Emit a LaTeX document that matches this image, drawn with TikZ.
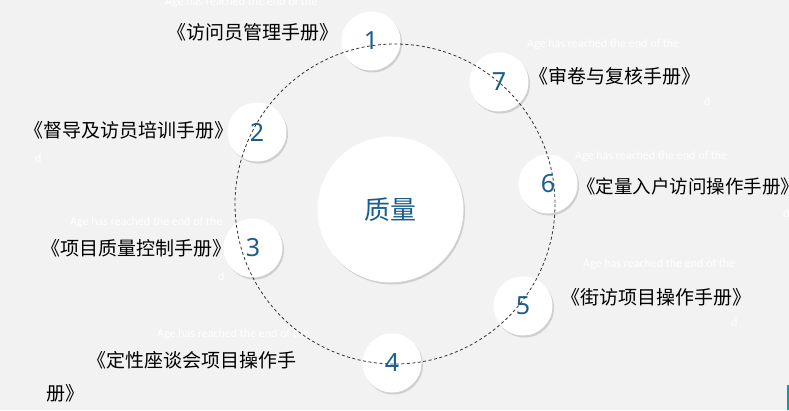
\documentclass[tikz,border=0pt]{standalone}
\usepackage{fontspec}
\setmainfont{Noto Sans}
\newfontfamily\cjk{Noto Sans CJK SC}
\newfontfamily\faintfont{Carlito}
\usetikzlibrary{shadows}
\definecolor{bggray}{HTML}{F2F2F2}
\definecolor{numblue}{HTML}{1B5E8C}
\definecolor{barteal}{HTML}{00A3A3}

\begin{document}
\begin{tikzpicture}[x=1pt,y=-1pt,
        numcircle/.style={circle,fill=white,minimum size=59pt,inner sep=0pt,
          drop shadow={opacity=0.3,shadow xshift=1.5pt,shadow yshift=-2pt},
          text=numblue,font=\fontsize{25}{25}\selectfont},
        bigcircle/.style={circle,fill=white,minimum size=146pt,inner sep=0pt,
          drop shadow={opacity=0.3,shadow xshift=1.5pt,shadow yshift=-2pt},
          text=numblue,font=\cjk\fontsize{26}{26}\selectfont},
        manual/.style={anchor=west,inner sep=0pt,font=\cjk\fontsize{19}{19}\selectfont},
        faint/.style={anchor=base west,inner sep=0pt,text=white,font=\faintfont\fontsize{12}{12}\selectfont},
        ring/.style={dash pattern=on 3pt off 2.5pt,line width=0.8pt,black!80}]
        \useasboundingbox (0,0) rectangle (789,410);
        \fill [bggray] (0,0) rectangle (789,410);
        \node [faint] (f1) at (165,5) {Age has reached the end of the};
        \node [faint] (f2) at (527,47) {Age has reached the end of the};
        \node [faint] (f3) at (575,159) {Age has reached the end of the};
        \node [faint] (f4) at (70,225) {Age has reached the end of the};
        \node [faint] (f5) at (157,337) {Age has reached the end of the};
        \node [faint] (f6) at (583,267) {Age has reached the end of the};
        \node [faint] (d1) at (704,105) {d};
        \node [faint] (d2) at (35,162) {d};
        \node [faint] (d3) at (218,280) {d};
        \node [faint] (d4) at (731,326) {d};
        \node [faint] (d5) at (783,217) {d};
        \node [numcircle] (n1) at (371,41) {1};
        \node [numcircle] (n2) at (257,132) {2};
        \node [numcircle] (n3) at (253,248) {3};
        \node [numcircle] (n4) at (392,363) {4};
        \node [numcircle] (n5) at (523,306) {5};
        \node [numcircle] (n6) at (548,184) {6};
        \node [numcircle] (n7) at (499,82) {7};
        \node [bigcircle] (quality) at (390.5,209.5) {质量};
        \draw [ring] (395,204) circle [radius=160];
        \node [manual] (lab1) at (167,32) {《访问员管理手册》};
        \node [manual] (lab2) at (24,130) {《督导及访员培训手册》};
        \node [manual] (lab3) at (41,248) {《项目质量控制手册》};
        \node [manual] (lab4a) at (87,360) {《定性座谈会项目操作手};
        \node [manual] (lab4b) at (46,393) {册》};
        \node [manual] (lab5) at (561,297) {《街访项目操作手册》};
        \node [manual,font=\cjk\fontsize{18.5}{18.5}\selectfont] (lab6) at (577,186) {《定量入户访问操作手册》};
        \node [manual] (lab7) at (529,76) {《审卷与复核手册》};
        \fill [barteal] (787,385) rectangle (789,410);
\end{tikzpicture}
\end{document}
